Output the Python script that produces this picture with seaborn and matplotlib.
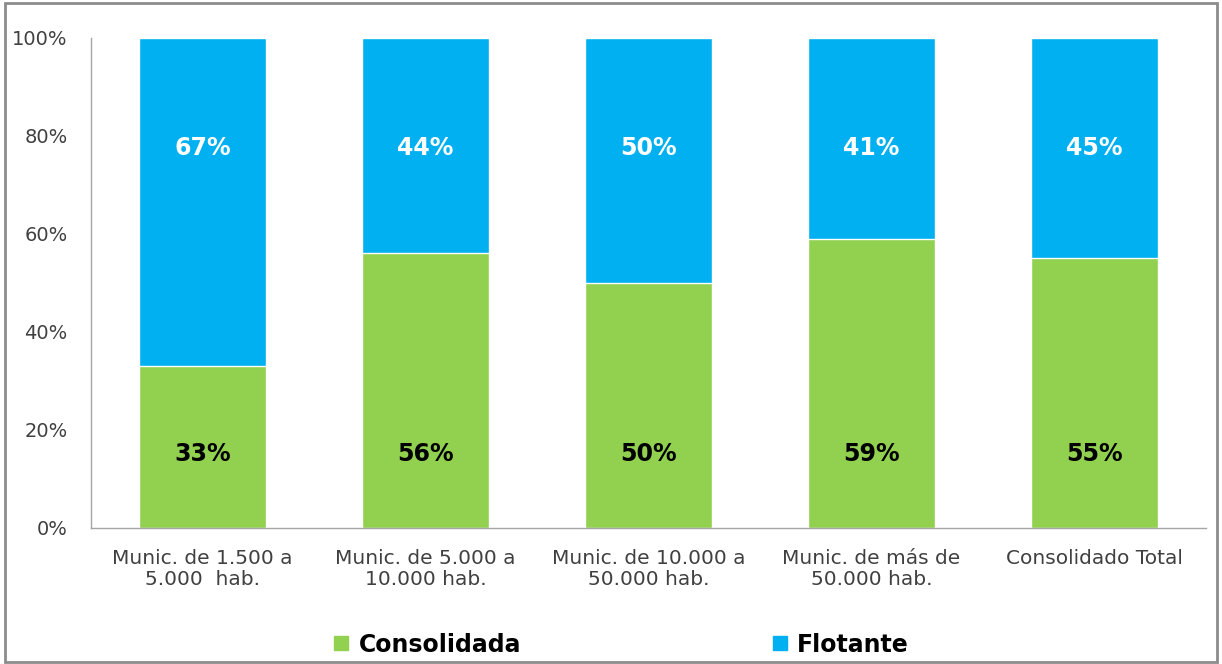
import pandas as pd
import seaborn as sns
import matplotlib.pyplot as plt
from matplotlib.lines import Line2D
from matplotlib.patches import Rectangle

categories = ['Munic. de 1.500 a\n5.000  hab.', 'Munic. de 5.000 a\n10.000 hab.',
              'Munic. de 10.000 a\n50.000 hab.', 'Munic. de más de\n50.000 hab.',
              'Consolidado Total']
consolidada = [33, 56, 50, 59, 55]
flotante = [67, 44, 50, 41, 45]

GREEN = '#92D050'
BLUE = '#00B0F0'


def main():
    sns.set_style('white')
    plt.rcParams['font.family'] = ['DejaVu Sans']

    df = pd.DataFrame({'cat': categories, 'consolidada': consolidada, 'flotante': flotante})
    df['total'] = df['consolidada'] + df['flotante']

    fig = plt.figure(figsize=(12.22, 6.64), dpi=100)
    ax = fig.add_axes([0.0745, 0.205, 0.9125, 0.738])

    sns.barplot(x='cat', y='total', data=df, color=BLUE, width=0.57,
                edgecolor='white', linewidth=1, saturation=1, ax=ax)
    sns.barplot(x='cat', y='consolidada', data=df, color=GREEN, width=0.57,
                edgecolor='white', linewidth=1, saturation=1, ax=ax)

    for i, row in df.iterrows():
        ax.text(i, 15, f"{row['consolidada']}%", ha='center', va='center',
                fontsize=17, fontweight='bold', color='black')
        ax.text(i, 77.5, f"{row['flotante']}%", ha='center', va='center',
                fontsize=17, fontweight='bold', color='white')

    ax.set_xlim(-0.5, 4.5)
    ax.set_ylim(0, 100)
    ax.set_yticks(range(0, 101, 20))
    ax.set_yticklabels([f'{v}%' for v in range(0, 101, 20)])
    ax.set_xlabel('')
    ax.set_ylabel('')
    ax.tick_params(axis='both', length=0, colors='#404040')
    ax.tick_params(axis='x', pad=15, labelsize=14.5)
    ax.tick_params(axis='y', pad=17, labelsize=14)
    for lbl in ax.get_xticklabels():
        lbl.set_linespacing(1.15)
    for s in ['top', 'right']:
        ax.spines[s].set_visible(False)
    for s in ['left', 'bottom']:
        ax.spines[s].set_color('#A6A6A6')
        ax.spines[s].set_linewidth(1)

    handles = [Line2D([], [], marker='s', ls='', markersize=10.5, color=GREEN),
               Line2D([], [], marker='s', ls='', markersize=10.5, color=BLUE)]
    fig.legend(handles, ['Consolidada', 'Flotante'], loc='center',
               bbox_to_anchor=(0.508, 0.029), ncol=2, frameon=False,
               handlelength=0.7, handletextpad=0.4, columnspacing=10.6,
               borderpad=0, labelcolor='black', prop={'weight': 'bold', 'size': 17})

    fig.patches.append(Rectangle((0.004, 0.003), 0.992, 0.992, transform=fig.transFigure,
                                 fill=False, edgecolor='#8C8C8C', linewidth=2))

    fig.savefig('out.png', dpi=100)
    plt.close(fig)


if __name__ == '__main__':
    main()
